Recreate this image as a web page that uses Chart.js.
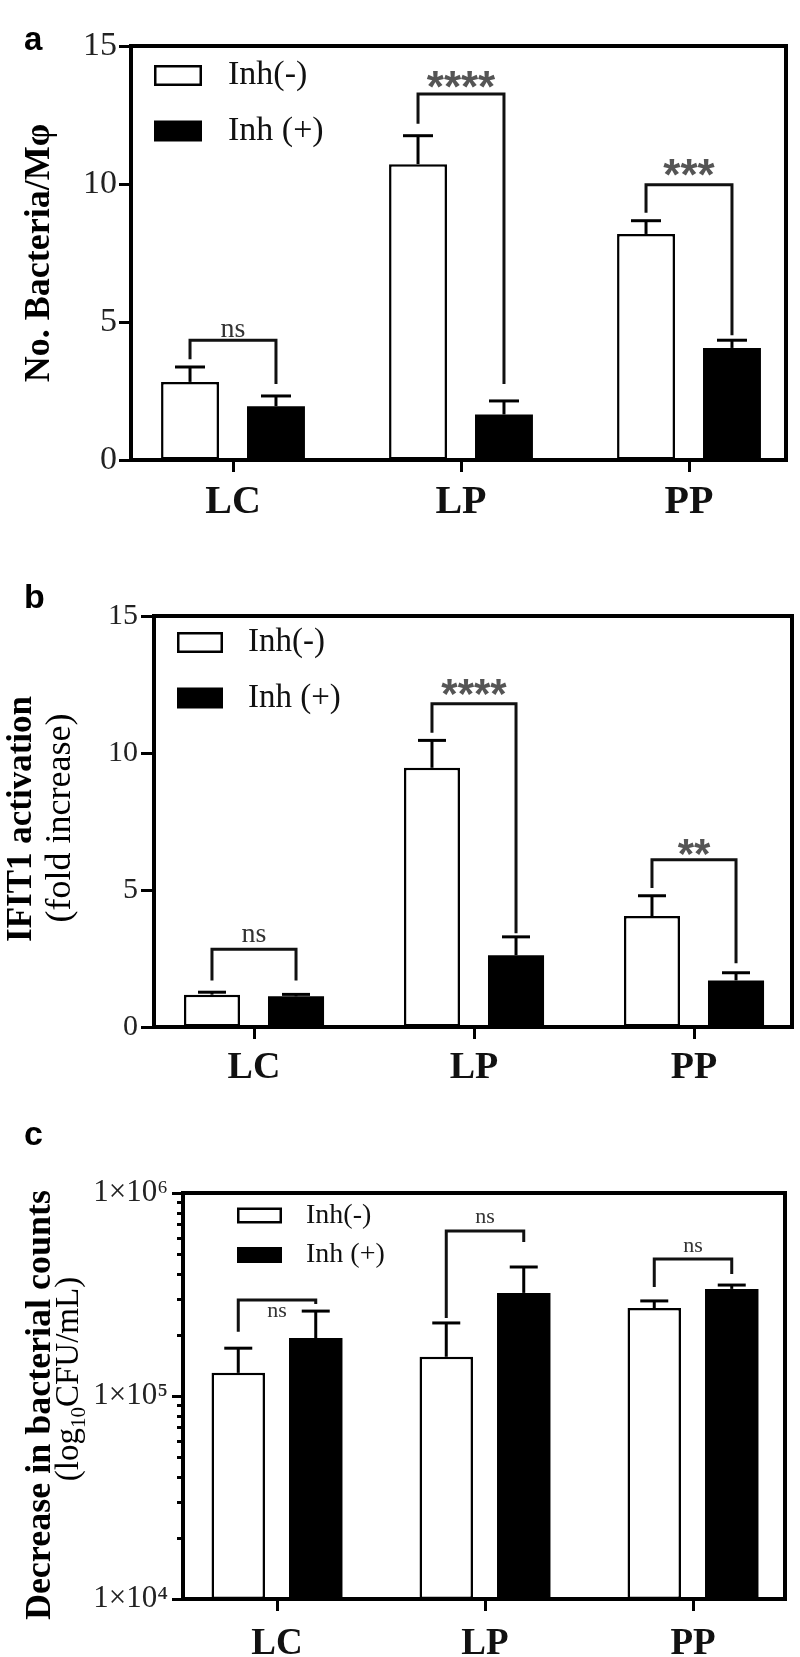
<!DOCTYPE html>
<html><head><meta charset="utf-8">
<script src="https://cdn.jsdelivr.net/npm/chart.js@4.4.0/dist/chart.umd.min.js"></script>
<style>
html,body{margin:0;padding:0;background:#fff;}
#wrap{position:relative;width:800px;height:1657px;overflow:hidden;background:#fff;}
canvas{position:absolute;left:0;top:0;}
</style></head><body>
<div id="wrap">
<canvas id="ca" width="800" height="1657"></canvas>
<canvas id="cb" width="800" height="1657"></canvas>
<canvas id="cc" width="800" height="1657"></canvas>
</div>
<script>
// ---------- shared ----------
const categories = ['LC', 'LP', 'PP'];
const seriesNames = ['Inh(-)', 'Inh (+)'];

// ---------- panel a : No. Bacteria/Mφ ----------
const aInhMinus    = [2.83, 10.72, 8.19];
const aInhMinusErr = [0.54, 1.03, 0.48];
const aInhPlus     = [1.95, 1.65, 4.06];
const aInhPlusErr  = [0.37, 0.49, 0.28];
const aYTicks      = [0, 5, 10, 15];
const aSigLabels   = ['ns', '****', '***'];
const aBracketLevel    = [4.34, 13.26, 9.97];
const aBracketLeftEnd  = [3.65, 12.18, 8.96];
const aBracketRightEnd = [2.75, 2.75, 4.52];
const aSigLabelLevel   = [4.7, 13.8, 10.6];

// ---------- panel b : IFIT1 activation ----------
const bInhMinus    = [1.18, 9.46, 4.05];
const bInhMinusErr = [0.09, 1.00, 0.74];
const bInhPlus     = [1.12, 2.62, 1.70];
const bInhPlusErr  = [0.07, 0.67, 0.28];
const bYTicks      = [0, 5, 10, 15];
const bSigLabels   = ['ns', '****', '**'];
const bBracketLevel    = [2.84, 11.8, 6.10];
const bBracketLeftEnd  = [1.70, 10.74, 5.07];
const bBracketRightEnd = [1.70, 3.42, 2.33];
const bSigLabelLevel   = [3.35, 12.41, 6.58];

// ---------- panel c : decrease in bacterial counts (log) ----------
const cInhMinus    = [1.30e5, 1.56e5, 2.71e5];
const cInhMinusErr = [0.42e5, 0.73e5, 0.23e5];
const cInhPlus     = [1.93e5, 3.22e5, 3.37e5];
const cInhPlusErr  = [0.69e5, 1.10e5, 0.15e5];
const cYTicks      = [1e4, 1e5, 1e6];
const cMinorTicks  = [2e4, 3e4, 4e4, 5e4, 6e4, 7e4, 8e4, 9e4, 2e5, 3e5, 4e5, 5e5, 6e5, 7e5, 8e5, 9e5];
const cSigLabels   = ['ns', 'ns', 'ns'];
const cBracketLevel    = [2.97e5, 6.5e5, 4.73e5];
const cBracketLeftEnd  = [2.07e5, 2.42e5, 3.44e5];
const cBracketRightEnd = [2.84e5, 5.73e5, 3.99e5];
const cSigLabelLevel   = [2.59e5, 7.53e5, 5.42e5];

const SERIF = "'Liberation Serif', 'Times New Roman', serif";
const SANS = "'Liberation Sans', Arial, sans-serif";
const SUP = {4: '\u2074', 5: '\u2075', 6: '\u2076'};
const PAGE_H = 1657;

function decoPlugin(spec) {
  return {
    id: 'deco',
    afterDatasetsDraw(chart) {
      const ctx = chart.ctx, y = chart.scales.y;
      ctx.save();
      ctx.strokeStyle = '#000';
      ctx.lineWidth = 3;
      chart.data.datasets.forEach((ds, di) => {
        const meta = chart.getDatasetMeta(di);
        meta.data.forEach((bar, i) => {
          const v = spec.vals[di][i], e = spec.errs[di][i];
          const yTop = y.getPixelForValue(v), yCap = y.getPixelForValue(v + e);
          ctx.beginPath(); ctx.moveTo(bar.x, yTop); ctx.lineTo(bar.x, yCap); ctx.stroke();
          ctx.beginPath(); ctx.moveTo(bar.x - spec.capHalf, yCap); ctx.lineTo(bar.x + spec.capHalf, yCap); ctx.stroke();
        });
      });
      const m0 = chart.getDatasetMeta(0), m1 = chart.getDatasetMeta(1);
      ctx.strokeStyle = '#111';
      ctx.lineWidth = 3;
      spec.sig.labels.forEach((lab, i) => {
        const xl = m0.data[i].x, xr = m1.data[i].x;
        const yl = y.getPixelForValue(spec.sig.level[i]);
        ctx.beginPath();
        ctx.moveTo(xl, y.getPixelForValue(spec.sig.left[i]));
        ctx.lineTo(xl, yl); ctx.lineTo(xr, yl);
        ctx.lineTo(xr, y.getPixelForValue(spec.sig.right[i]));
        ctx.stroke();
        const isStar = lab.indexOf('*') >= 0;
        ctx.font = isStar ? spec.starFont : spec.nsFont;
        ctx.fillStyle = isStar ? '#555' : '#333';
        ctx.textAlign = 'center';
        ctx.textBaseline = 'alphabetic';
        const mt = ctx.measureText(lab);
        const cy = y.getPixelForValue(spec.sig.labelLevel[i]);
        const base = cy + (mt.actualBoundingBoxAscent - mt.actualBoundingBoxDescent) / 2;
        ctx.fillText(lab, (xl + xr) / 2, base);
      });
      ctx.restore();
    },
    afterDraw(chart) {
      const ctx = chart.ctx, a = chart.chartArea, y = chart.scales.y;
      ctx.save();
      // frame box
      ctx.strokeStyle = '#000';
      ctx.lineWidth = 4;
      ctx.strokeRect(a.left, a.top, a.right - a.left, a.bottom - a.top);
      // minor log ticks
      if (spec.minor) {
        ctx.lineWidth = 3;
        spec.minor.forEach(v => {
          const py = Math.round(y.getPixelForValue(v)) + 0.5;
          ctx.beginPath(); ctx.moveTo(a.left - spec.minorLen, py); ctx.lineTo(a.left, py); ctx.stroke();
        });
      }
      // legend
      const L = spec.legend;
      chart.data.datasets.forEach((ds, di) => {
        const cy = L.rows[di];
        if (di === 0) {
          ctx.fillStyle = '#fff'; ctx.fillRect(L.x, cy - L.h / 2, L.w, L.h);
          ctx.lineWidth = 2.5; ctx.strokeStyle = '#000';
          ctx.strokeRect(L.x + 1.25, cy - L.h / 2 + 1.25, L.w - 2.5, L.h - 2.5);
        } else {
          ctx.fillStyle = '#000'; ctx.fillRect(L.x, cy - L.h / 2, L.w, L.h);
        }
        ctx.fillStyle = '#111';
        ctx.font = L.font;
        ctx.textAlign = 'left';
        ctx.textBaseline = 'middle';
        ctx.fillText(ds.label, L.textX, cy);
      });
      // rotated y-axis titles, each line made of text segments
      spec.titles.forEach(t => {
        ctx.save();
        ctx.translate(t.x, t.y);
        ctx.rotate(-Math.PI / 2);
        ctx.fillStyle = '#000';
        ctx.textAlign = 'left';
        ctx.textBaseline = 'alphabetic';
        let total = 0;
        const widths = t.segs.map(s => { ctx.font = s.font; const w = ctx.measureText(s.text).width; total += w; return w; });
        let cx = -total / 2;
        t.segs.forEach((s, k) => { ctx.font = s.font; ctx.fillText(s.text, cx, s.dy || 0); cx += widths[k]; });
        ctx.restore();
      });
      // panel letter
      ctx.font = spec.letter.font;
      ctx.fillStyle = '#000';
      ctx.textAlign = 'left';
      ctx.textBaseline = 'alphabetic';
      ctx.fillText(spec.letter.text, spec.letter.x, spec.letter.y);
      ctx.restore();
    }
  };
}

function makePanel(spec) {
  const A = spec.area;
  const XH = spec.xh;
  const xMin = -(spec.firstCenter - A.left) / spec.spacing;
  const xMax = (A.right - spec.firstCenter) / spec.spacing;
  const styles = [
    {backgroundColor: '#fff', borderColor: '#000', borderWidth: 2.5, borderSkipped: false},
    {backgroundColor: '#000', borderColor: '#000', borderWidth: 0}
  ];
  const datasets = seriesNames.map((name, di) => Object.assign({
    label: name,
    data: categories.map((c, i) => ({x: i, y: spec.vals[di][i]}))
  }, styles[di]));
  new Chart(document.getElementById(spec.id), {
    type: 'bar',
    data: {datasets},
    options: {
      responsive: false,
      animation: false,
      events: [],
      categoryPercentage: spec.catPct,
      barPercentage: spec.barPct,
      layout: {padding: {left: 0, top: A.top, right: 800 - A.right, bottom: PAGE_H - A.bottom - XH}},
      plugins: {legend: {display: false}, tooltip: {enabled: false}},
      scales: {
        x: {
          type: 'linear', offset: false, min: xMin, max: xMax,
          afterBuildTicks: s => { s.ticks = categories.map((c, i) => ({value: i})); },
          afterFit: s => { s.height = XH; },
          border: {display: false},
          grid: {offset: false, drawOnChartArea: false, drawTicks: true, tickLength: spec.xTickLen, tickWidth: 3, tickColor: '#000'},
          ticks: {
            callback: v => categories[Math.round(v)],
            font: {family: SERIF, size: spec.xFont, weight: 'bold'},
            color: '#111', padding: spec.xPad, maxRotation: 0, autoSkip: false
          }
        },
        y: {
          type: spec.yType, min: spec.yMin, max: spec.yMax,
          afterBuildTicks: s => { s.ticks = spec.yTicks.map(v => ({value: v})); },
          afterFit: s => { s.width = A.left; },
          border: {display: false},
          grid: {drawOnChartArea: false, drawTicks: true, tickLength: spec.yTickLen, tickWidth: 3, tickColor: '#000'},
          ticks: {
            callback: spec.yFmt,
            font: {family: SERIF, size: spec.yFont},
            color: '#222', padding: spec.yPad, autoSkip: false
          }
        }
      }
    },
    plugins: [decoPlugin(spec)]
  });
}

makePanel({
  id: 'ca', area: {left: 131, right: 786, top: 46, bottom: 460}, xh: 80,
  firstCenter: 233, spacing: 228, catPct: 0.754, barPct: 0.674,
  yType: 'linear', yMin: 0, yMax: 15, yTicks: aYTicks, yFmt: v => String(v),
  yFont: 34, yTickLen: 12, yPad: 2, xFont: 40, xTickLen: 12, xPad: 7,
  vals: [aInhMinus, aInhPlus], errs: [aInhMinusErr, aInhPlusErr],
  sig: {labels: aSigLabels, level: aBracketLevel, left: aBracketLeftEnd, right: aBracketRightEnd, labelLevel: aSigLabelLevel},
  nsFont: "28px " + SERIF, starFont: "bold 44px " + SANS, capHalf: 15,
  legend: {x: 154, w: 48, h: 21, textX: 228, rows: [75.5, 131], font: "34px " + SERIF},
  letter: {text: 'a', x: 24, y: 50, font: "bold 33px " + SANS},
  titles: [{x: 49, y: 253, segs: [{text: 'No. Bacteria/M\u03c6', font: "bold 36px " + SERIF}]}],
  minor: null
});

makePanel({
  id: 'cb', area: {left: 154, right: 792, top: 616, bottom: 1027}, xh: 80,
  firstCenter: 254, spacing: 220, catPct: 0.764, barPct: 0.667,
  yType: 'linear', yMin: 0, yMax: 15, yTicks: bYTicks, yFmt: v => String(v),
  yFont: 30, yTickLen: 13, yPad: 3, xFont: 38, xTickLen: 12, xPad: 6,
  vals: [bInhMinus, bInhPlus], errs: [bInhMinusErr, bInhPlusErr],
  sig: {labels: bSigLabels, level: bBracketLevel, left: bBracketLeftEnd, right: bBracketRightEnd, labelLevel: bSigLabelLevel},
  nsFont: "28px " + SERIF, starFont: "bold 42px " + SANS, capHalf: 14,
  legend: {x: 177, w: 46, h: 21, textX: 248, rows: [642.5, 698], font: "33px " + SERIF},
  letter: {text: 'b', x: 24, y: 608, font: "bold 34px " + SANS},
  titles: [
    {x: 31, y: 819, segs: [{text: 'IFIT1 activation', font: "bold 35px " + SERIF}]},
    {x: 70, y: 818, segs: [{text: '(fold increase)', font: "36px " + SERIF}]}
  ],
  minor: null
});

makePanel({
  id: 'cc', area: {left: 183, right: 785, top: 1193, bottom: 1599}, xh: 58,
  firstCenter: 277, spacing: 208, catPct: 0.745, barPct: 0.69,
  yType: 'logarithmic', yMin: 1e4, yMax: 1e6, yTicks: cYTicks,
  yFmt: v => '1\u00d710' + SUP[Math.round(Math.log10(v))],
  yFont: 31, yTickLen: 11, yPad: 4, xFont: 37, xTickLen: 12, xPad: 11,
  vals: [cInhMinus, cInhPlus], errs: [cInhMinusErr, cInhPlusErr],
  sig: {labels: cSigLabels, level: cBracketLevel, left: cBracketLeftEnd, right: cBracketRightEnd, labelLevel: cSigLabelLevel},
  nsFont: "22px " + SERIF, starFont: "bold 40px " + SANS, capHalf: 14,
  legend: {x: 237, w: 45, h: 16, textX: 306, rows: [1215.5, 1255], font: "28px " + SERIF},
  letter: {text: 'c', x: 24, y: 1145, font: "bold 34px " + SANS},
  titles: [
    {x: 50, y: 1405, segs: [{text: 'Decrease in bacterial counts', font: "bold 36px " + SERIF}]},
    {x: 78, y: 1379, segs: [
      {text: '(log', font: "33px " + SERIF},
      {text: '10', font: "21px " + SERIF, dy: 7},
      {text: 'CFU/mL)', font: "33px " + SERIF}
    ]}
  ],
  minor: cMinorTicks, minorLen: 6
});
</script>
</body></html>
